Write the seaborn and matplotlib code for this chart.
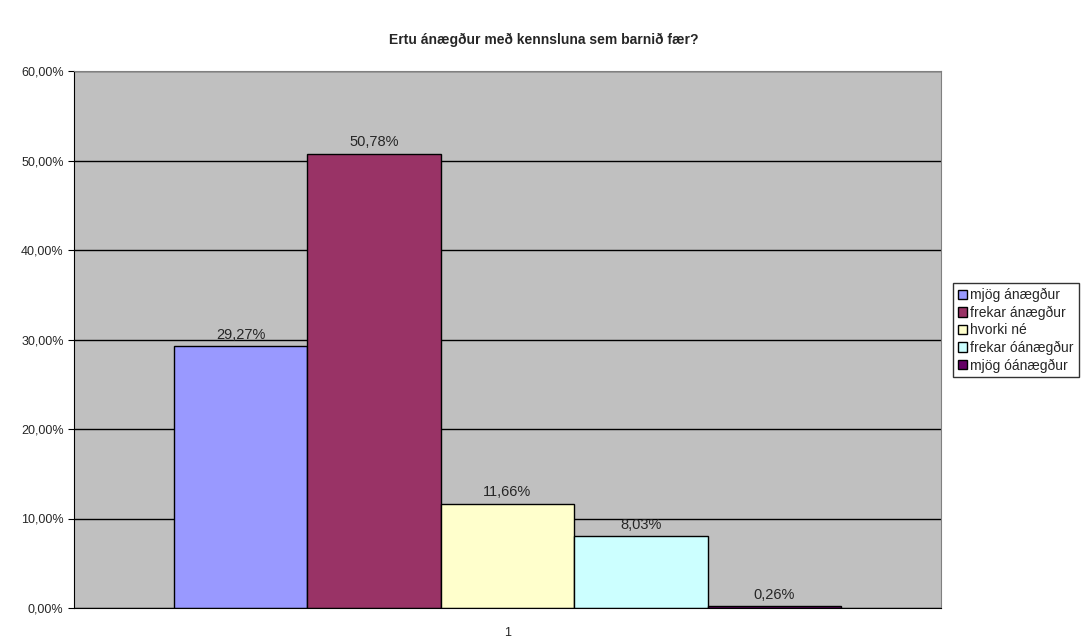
import pandas as pd
import numpy as np
import matplotlib
matplotlib.use('Agg')
import matplotlib.pyplot as plt
import seaborn as sns
from matplotlib.ticker import FuncFormatter

# gögn lesin af myndinni
categories = ['mjög ánægður', 'frekar ánægður', 'hvorki né', 'frekar óánægður', 'mjög óánægður']
values = [29.27, 50.78, 11.66, 8.03, 0.26]
colors = ['#9999FF', '#993366', '#FFFFCC', '#CCFFFF', '#660066']
group_label = ['1'] * len(categories)

df = pd.DataFrame({'hópur': group_label, 'svar': categories, 'hlutfall': values})

sns.set_style('white')
plt.rcParams['font.family'] = ['Liberation Sans', 'DejaVu Sans']

fig = plt.figure(figsize=(10.88, 6.39), dpi=100)
ax = fig.add_axes([74 / 1088, 1 - 608 / 639, (941 - 74) / 1088, (608 - 71) / 639])

sns.barplot(data=df, x='hópur', y='hlutfall', hue='svar', hue_order=categories,
            palette=colors, width=0.77, edgecolor='black', linewidth=1,
            saturation=1, ax=ax)

ax.set_facecolor('#C0C0C0')
ax.set_xlim(-0.5, 0.5)
ax.set_ylim(0, 60)
ax.set_yticks(np.arange(0, 61, 10))
ax.yaxis.set_major_formatter(FuncFormatter(lambda v, p: f'{v:.2f}%'.replace('.', ',')))
ax.grid(axis='y', color='black', linewidth=1)
ax.set_axisbelow(True)
ax.set_xlabel('')
ax.set_ylabel('')
ax.tick_params(axis='y', labelsize=9, length=4, direction='out', color='black', left=True)
ax.tick_params(axis='x', labelsize=9, length=0, pad=14)
for s in ['left', 'bottom']:
    ax.spines[s].set_color('black')
for s in ['top', 'right']:
    ax.spines[s].set_color('#808080')

# gildi ofan á súlunum
for cont in ax.containers:
    ax.bar_label(cont, labels=[f'{v:.2f}%'.replace('.', ',') for v in cont.datavalues],
                 padding=3, fontsize=10.5)

fig.suptitle('Ertu ánægður með kennsluna sem barnið fær?', fontsize=10,
             fontweight='bold', y=1 - 40 / 639, va='center')

leg = ax.legend(loc='upper left', bbox_to_anchor=(953 / 1088, 1 - 283 / 639),
                bbox_transform=fig.transFigure, frameon=True, fancybox=False,
                edgecolor='black', fontsize=10, handlelength=0.65, handleheight=0.65,
                handletextpad=0.25, borderpad=0.35, labelspacing=0.25,
                borderaxespad=0)
leg.get_frame().set_linewidth(1)

fig.savefig('out.png', dpi=100)
